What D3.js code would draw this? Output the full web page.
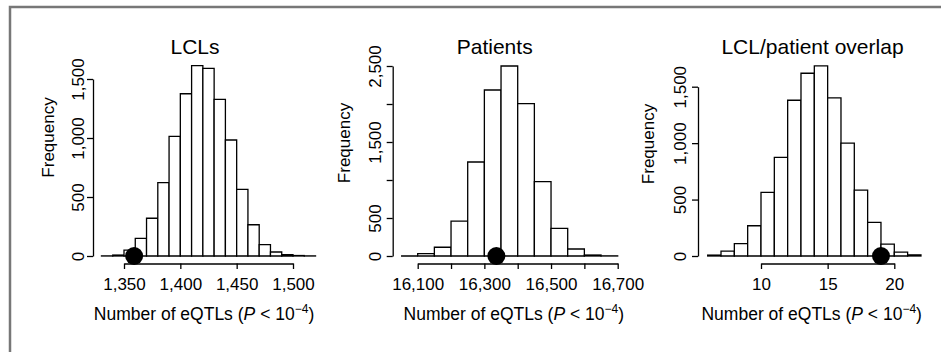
<!DOCTYPE html>
<html>
<head>
<meta charset="utf-8">
<script src="https://cdn.jsdelivr.net/npm/d3@7"></script>
<style>
  body { margin: 0; background: #fff; }
  svg { display: block; font-family: 'Liberation Sans', Arial, Helvetica, sans-serif; }
</style>
</head>
<body>
<svg id="chart" width="941" height="352"></svg>
<script>
// LCLs
const lclBinStarts = [1330, 1340, 1350, 1360, 1370, 1380, 1390, 1400, 1410, 1420, 1430, 1440, 1450, 1460, 1470, 1480, 1490, 1500, 1510];
const lclCounts = [1, 8, 50, 150, 320, 622, 1014, 1375, 1613, 1590, 1328, 983, 565, 265, 96, 34, 12, 4, 1];
const lclObserved = 1359;
const lclXTicks = [1350, 1400, 1450, 1500];
const lclXLabels = ['1,350', '1,400', '1,450', '1,500'];
const lclYTicks = [0, 500, 1000, 1500];
const lclYLabels = ['0', '500', '1,000', '1,500'];

// Patients
const patBinStarts = [16050, 16100, 16150, 16200, 16250, 16300, 16350, 16400, 16450, 16500, 16550, 16600, 16650];
const patCounts = [0, 30, 115, 460, 1237, 2184, 2500, 2004, 978, 364, 92, 13, 2];
const patObserved = 16336;
const patXTicks = [16100, 16200, 16300, 16400, 16500, 16600, 16700];
const patXLabels = ['16,100', '', '16,300', '', '16,500', '', '16,700'];
const patYTicks = [0, 500, 1000, 1500, 2000, 2500];
const patYLabels = ['0', '500', '', '1,500', '', '2,500'];

// LCL/patient overlap
const ovlBinStarts = [6, 7, 8, 9, 10, 11, 12, 13, 14, 15, 16, 17, 18, 19, 20, 21];
const ovlCounts = [8, 44, 110, 268, 563, 873, 1380, 1619, 1684, 1401, 1000, 584, 298, 106, 35, 10];
const ovlObserved = 19;
const ovlXTicks = [10, 15, 20];
const ovlXLabels = ['10', '15', '20'];
const ovlYTicks = [0, 500, 1000, 1500];
const ovlYLabels = ['0', '500', '1,000', '1,500'];

const titles = ['LCLs', 'Patients', 'LCL/patient overlap'];

const svg = d3.select('#chart');

// outer frame (only top and left edges show)
svg.append('path')
  .attr('d', 'M10,352 V7 H941')
  .attr('fill', 'none')
  .attr('stroke', '#777')
  .attr('stroke-width', 2.5);

const panels = [
  { title: titles[0], starts: lclBinStarts, counts: lclCounts, width: 10, obs: lclObserved,
    xTicks: lclXTicks, xLabels: lclXLabels, yTicks: lclYTicks, yLabels: lclYLabels,
    xPx: [124, 293], yPx: [256, 79], yAxisX: 93, yGap: 9, titleX: 195, xlabX: 204, ylabX: 54, ylabY: 137.5 },
  { title: titles[1], starts: patBinStarts, counts: patCounts, width: 50, obs: patObserved,
    xTicks: patXTicks, xLabels: patXLabels, yTicks: patYTicks, yLabels: patYLabels,
    xPx: [417.7, 617.7], yPx: [256, 66], yAxisX: 392.7, yGap: 12, titleX: 494.7, xlabX: 513.8, ylabX: 350, ylabY: 143 },
  { title: titles[2], starts: ovlBinStarts, counts: ovlCounts, width: 1, obs: ovlObserved,
    xTicks: ovlXTicks, xLabels: ovlXLabels, yTicks: ovlYTicks, yLabels: ovlYLabels,
    xPx: [761, 894.3], yPx: [256, 86.7], yAxisX: 698, yGap: 12, titleX: 812.5, xlabX: 811.7, ylabX: 654, ylabY: 144 }
];

const xAxisY = 263.5;

panels.forEach((p) => {
  const x = d3.scaleLinear().domain([p.xTicks[0], p.xTicks[p.xTicks.length - 1]]).range(p.xPx);
  const y = d3.scaleLinear().domain([p.yTicks[0], p.yTicks[p.yTicks.length - 1]]).range(p.yPx);
  const g = svg.append('g');

  // bars as paths so empty bins still show as a flat line
  g.selectAll('path.bar').data(p.starts)
    .enter().append('path')
    .attr('class', 'bar')
    .attr('d', (s, i) => `M${x(s)},${y(0)}V${y(p.counts[i])}H${x(s + p.width)}V${y(0)}Z`)
    .attr('fill', '#fff')
    .attr('stroke', '#000')
    .attr('stroke-width', 1.3);

  // observed value
  g.append('circle')
    .attr('cx', x(p.obs))
    .attr('cy', y(0))
    .attr('r', 9)
    .attr('fill', '#000');

  const xAxis = d3.axisBottom(x).tickValues(p.xTicks).tickSizeInner(5.5).tickSizeOuter(0)
    .tickFormat((d, i) => p.xLabels[i]);
  const xg = g.append('g')
    .attr('transform', `translate(0,${xAxisY})`)
    .call(xAxis);
  xg.selectAll('text')
    .attr('y', 26.5).attr('dy', 0)
    .style('font-size', '17px').attr('fill', '#000');

  const yAxis = d3.axisLeft(y).tickValues(p.yTicks).tickSizeInner(6).tickSizeOuter(0)
    .tickFormat((d, i) => p.yLabels[i]);
  const yg = g.append('g')
    .attr('transform', `translate(${p.yAxisX},0)`)
    .call(yAxis);
  yg.selectAll('text')
    .attr('x', 0).attr('y', -p.yGap).attr('dy', 0)
    .attr('transform', 'rotate(-90)')
    .attr('text-anchor', 'middle')
    .style('font-size', '17px').attr('fill', '#000');

  [xg, yg].forEach((ag) => {
    ag.attr('font-family', null).attr('font-size', null);
    ag.selectAll('path, line').attr('stroke', '#000').attr('stroke-width', 1.3);
  });

  g.append('text')
    .attr('x', p.titleX).attr('y', 53.5)
    .attr('text-anchor', 'middle')
    .style('font-size', '21px')
    .text(p.title);

  const xl = g.append('text')
    .attr('x', p.xlabX).attr('y', 320)
    .attr('text-anchor', 'middle')
    .style('font-size', '17.5px');
  xl.append('tspan').text('Number of eQTLs (');
  xl.append('tspan').style('font-style', 'italic').text('P');
  xl.append('tspan').text(' < 10');
  xl.append('tspan').attr('dy', -7).style('font-size', '12px').text('\u22124');
  xl.append('tspan').attr('dy', 7).text(')');

  g.append('text')
    .attr('transform', `translate(${p.ylabX},${p.ylabY}) rotate(-90)`)
    .attr('text-anchor', 'middle')
    .style('font-size', '17px')
    .text('Frequency');
});
</script>
</body>
</html>
